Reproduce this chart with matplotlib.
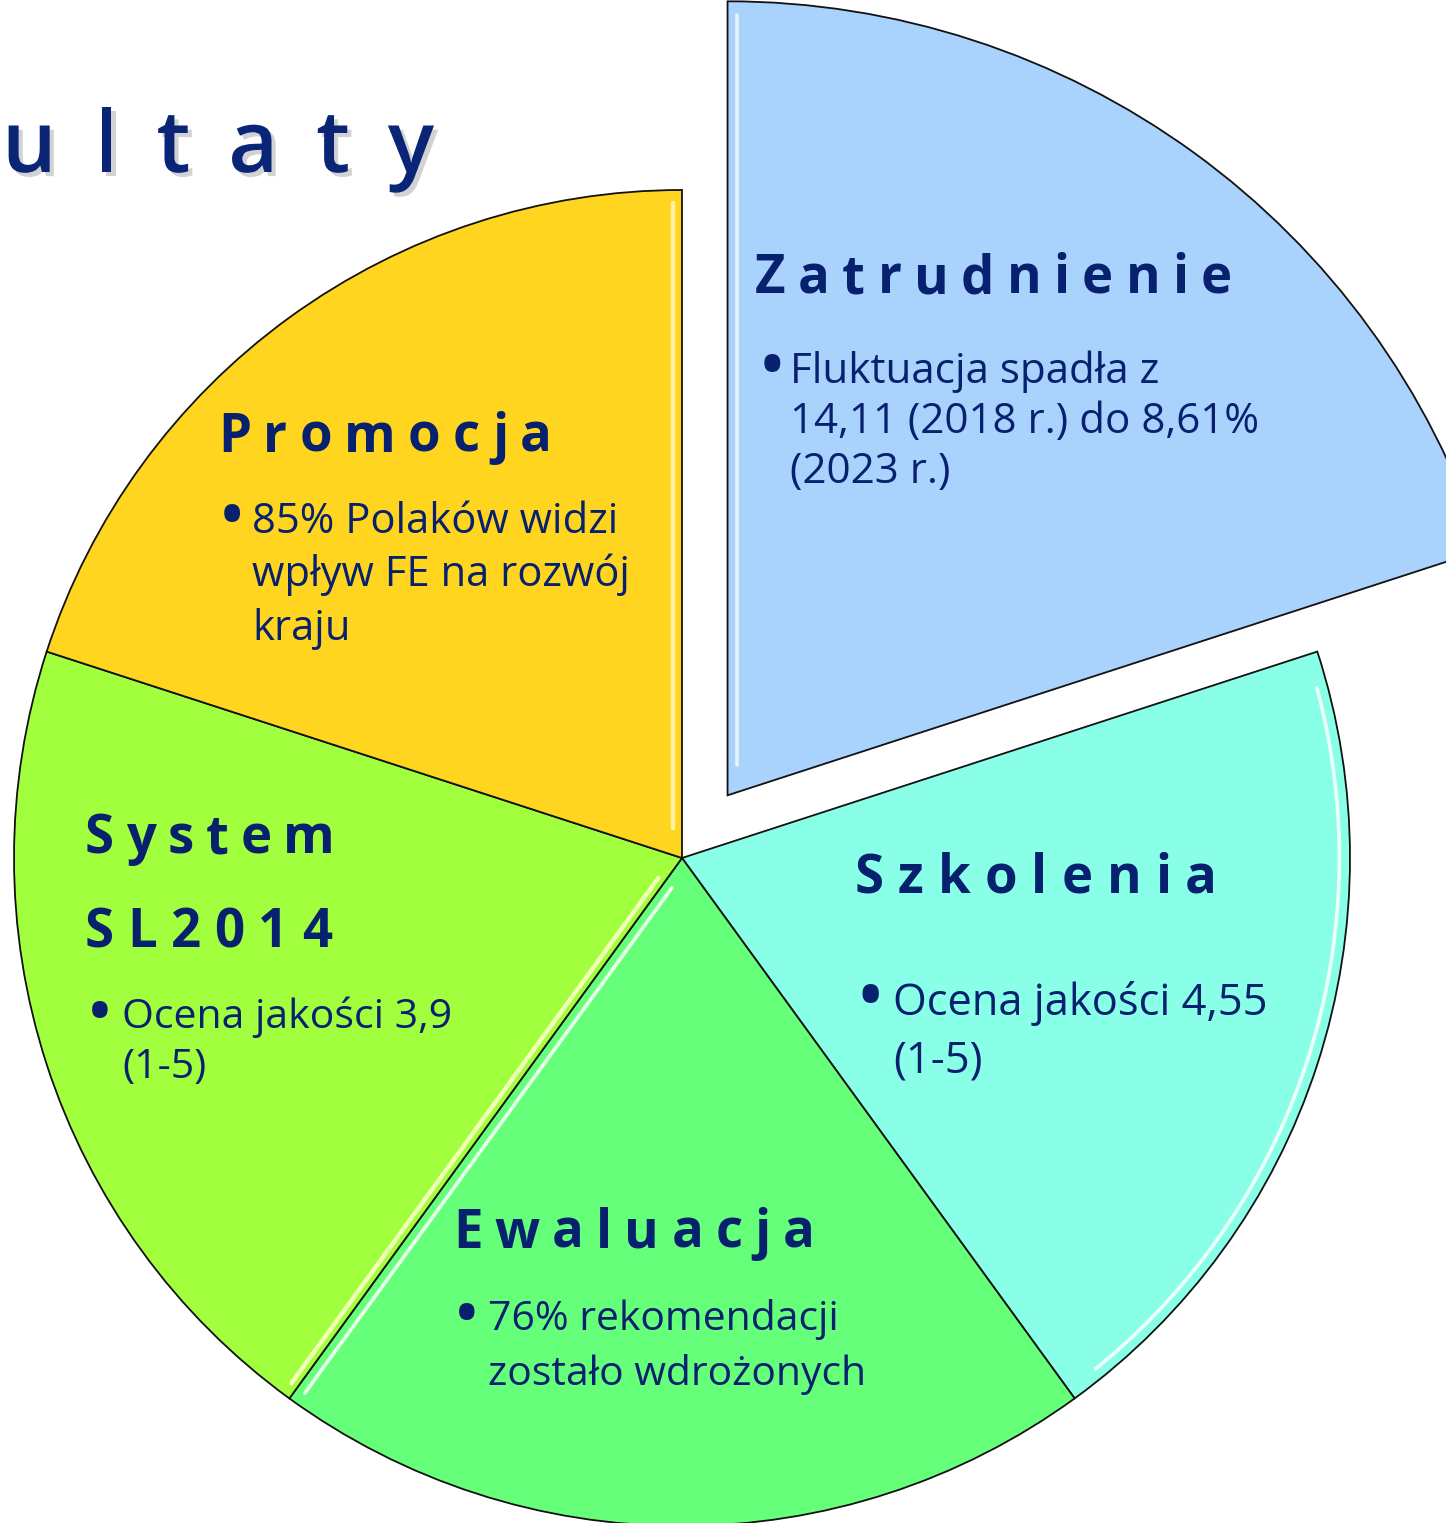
import matplotlib
matplotlib.use("Agg")
import matplotlib.pyplot as plt
import numpy as np
from matplotlib.transforms import Affine2D
import matplotlib.patheffects as pe

W, H = 1446, 1523
DPI = 100
FONT = ["Open Sans", "DejaVu Sans"]
NAVY = "#07216F"

# ---------------- data ----------------
categories = ["Zatrudnienie", "Szkolenia", "Ewaluacja", "System SL2014", "Promocja"]
shares = [1, 1, 1, 1, 1]
colors = ["#A9D2FD", "#88FFE6", "#66FF7A", "#A2FF3E", "#FFD51F"]
explode = [0.116, 0, 0, 0, 0]
heading_lines = [["Zatrudnienie"], ["Szkolenia"], ["Ewaluacja"], ["System", "SL2014"], ["Promocja"]]
bullet_lines = [
    ["Fluktuacja spadła z", "14,11 (2018 r.) do 8,61%", "(2023 r.)"],
    ["Ocena jakości 4,55", "(1-5)"],
    ["76% rekomendacji", "zostało wdrożonych"],
    ["Ocena jakości 3,9", "(1-5)"],
    ["85% Polaków widzi", "wpływ FE na rozwój", "kraju"],
]
# visible part of the slide title ("Rezultaty", cut by the left edge)
title_visible = "ultaty"

# ---------------- layout (pixels, origin top-left) ----------------
heading_layout = [
    [(755, 1232, 293)],
    [(855, 1217, 893)],
    [(453, 815, 1248)],
    [(85, 335, 853), (85, 332, 947)],
    [(218, 552, 452)],
]
# bullet_x, text_x, first baseline, line step, reference line index, reference width
body_layout = [
    (758, 790, 383, 50, 1, 470),
    (855, 893, 1015, 58, 0, 375),
    (453, 488, 1330, 55, 1, 377),
    (86, 122, 1028, 50, 0, 330),
    (218, 252, 533, 53.5, 0, 365),
]

fig = plt.figure(figsize=(W / DPI, H / DPI), dpi=DPI)
ax = fig.add_axes([0, 0, 1, 1])
R_PX = 668.0
CX, CY = 682.0, 858.0

wedges, _ = ax.pie(shares, colors=colors, startangle=90, counterclock=False,
                   explode=explode, radius=1, center=(0, 0),
                   wedgeprops=dict(edgecolor="#111111", linewidth=1.3))
wedges[0].set_radius(794 / R_PX)
ax.set_aspect("auto")
ax.set_xlim(-CX / R_PX, (W - CX) / R_PX)
ax.set_ylim((CY - H) / R_PX, CY / R_PX)
ax.axis("off")


# bevel-like highlights
def radial_highlight(w, ang, s, d=0.013, r0=0.045, r1_off=0.02, color="white", alpha=0.85, lw=2.6):
    cx, cy = w.center
    R = w.r
    a = np.deg2rad(ang)
    u = np.array([np.cos(a), np.sin(a)])
    n = s * np.array([-np.sin(a), np.cos(a)])
    rr = np.array([r0, R - r1_off])
    ax.plot(cx + rr * u[0] + d * n[0], cy + rr * u[1] + d * n[1],
            color=color, alpha=alpha, lw=lw, solid_capstyle="round", zorder=3)


def arc_highlight(w, d=0.016, pad=3, color="white", alpha=0.85, lw=2.6):
    cx, cy = w.center
    th = np.deg2rad(np.linspace(w.theta1 + pad, w.theta2 - pad, 100))
    rr = w.r - d
    ax.plot(cx + rr * np.cos(th), cy + rr * np.sin(th), color=color, alpha=alpha,
            lw=lw, solid_capstyle="round", zorder=3)


radial_highlight(wedges[0], wedges[0].theta2, -1, d=0.014, color="#F2FAFF")
arc_highlight(wedges[1])
radial_highlight(wedges[2], wedges[2].theta1, +1, d=0.014)
radial_highlight(wedges[3], wedges[3].theta2, -1, d=0.011, color="#FFFFC8", lw=3.2)
radial_highlight(wedges[4], wedges[4].theta1, +1, d=0.014, color="#FFF6C0", lw=3.2)

PX = Affine2D().scale(1, -1).translate(0, H)
renderer = fig.canvas.get_renderer()


def ink_width(s, size, weight="normal"):
    t = fig.text(0, 0, s, fontsize=size, fontweight=weight, family=FONT)
    w = t.get_window_extent(renderer).width
    t.remove()
    return w


def tracked_fit(s, x_left, x_right, baseline, size, weight="bold", color=NAVY, effects=None):
    widths = [ink_width(ch, size, weight) for ch in s]
    gap = (x_right - x_left - sum(widths)) / max(len(s) - 1, 1)
    x = x_left
    for ch, wd in zip(s, widths):
        fig.text(x, baseline, ch, transform=PX, fontsize=size, fontweight=weight,
                 family=FONT, color=color, ha="left", va="baseline", path_effects=effects)
        x += wd + gap


# title (visible part)
tracked_fit(title_visible, 2, 434, 172, 62, weight="semibold", color="#0A2476",
            effects=[pe.withSimplePatchShadow(offset=(3, -3), shadow_rgbFace="#808080", alpha=0.35)])

# headings
for lines, lay in zip(heading_lines, heading_layout):
    for txt, (xl, xr, bl) in zip(lines, lay):
        tracked_fit(txt, xl, xr, bl, 38)

# bullet bodies
for lines, (bx, tx, b0, step, ri, rw) in zip(bullet_lines, body_layout):
    base = 28
    size = base * rw / ink_width(lines[ri], base)
    fig.text(bx, b0 + 8, "\u2022", transform=PX, fontsize=size * 1.8, family=FONT, color=NAVY,
             ha="left", va="baseline")
    for i, line in enumerate(lines):
        fig.text(tx, b0 + i * step, line, transform=PX, fontsize=size, family=FONT,
                 color=NAVY, ha="left", va="baseline")

fig.savefig("out.png", dpi=DPI, facecolor="white")
